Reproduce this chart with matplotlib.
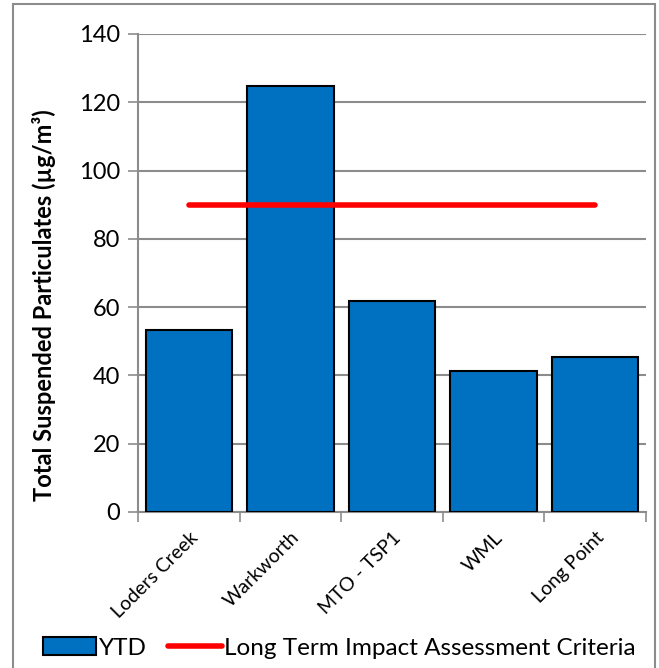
import matplotlib.pyplot as plt
from matplotlib.patches import Patch, Rectangle
from matplotlib.lines import Line2D

sites = ['Loders Creek', 'Warkworth', 'MTO - TSP1', 'WML', 'Long Point']
ytd = [53.4, 124.7, 61.9, 41.4, 45.3]
criteria = [90, 90, 90, 90, 90]

plt.rcParams['font.family'] = ['Lato', 'DejaVu Sans']

fig = plt.figure(figsize=(6.59, 6.68), dpi=100)
ax = fig.add_axes([138 / 659, 1 - 512 / 668, 508 / 659, 478 / 668])

x = range(len(sites))
ax.bar(x, ytd, width=0.85, color='#0070C0', edgecolor='black', linewidth=1.5, zorder=3)
ax.plot(x, criteria, color='#FF0000', linewidth=4, solid_capstyle='round', zorder=4)

ax.set_xlim(-0.5, len(sites) - 0.5)
ax.set_ylim(0, 140)
ax.set_yticks(range(0, 141, 20))
ax.yaxis.grid(True, color='#8c8c8c', linewidth=1.5, zorder=0)
ax.tick_params(axis='y', labelsize=17, length=7, width=1.2, color='#8c8c8c', pad=6)

ax.set_xticks([i - 0.5 for i in range(len(sites) + 1)])
ax.set_xticklabels([])
ax.set_xticks(list(x), minor=True)
ax.set_xticklabels(sites, minor=True, rotation=45, ha='right', rotation_mode='anchor', fontsize=14)
ax.tick_params(axis='x', which='major', length=7, width=1.2, color='#8c8c8c')
ax.tick_params(axis='x', which='minor', length=0, pad=12)

for s in ['top', 'right']:
    ax.spines[s].set_visible(False)
for s in ['left', 'bottom']:
    ax.spines[s].set_color('#8c8c8c')
    ax.spines[s].set_linewidth(1.5)

ax.set_ylabel('Total Suspended Particulates (µg/m³)', fontsize=17, fontweight='bold')
ax.yaxis.set_label_coords(-0.162, 0.433)

handles = [Patch(facecolor='#0070C0', edgecolor='black', linewidth=1.5),
           Line2D([0], [0], color='#FF0000', linewidth=4, solid_capstyle='round')]
fig.legend(handles, ['YTD', 'Long Term Impact Assessment Criteria'], loc='center',
           bbox_to_anchor=(0.515, 1 - 648 / 668), ncol=2, frameon=False, fontsize=17.5,
           handlelength=2.2, handletextpad=0.1, columnspacing=0.9)

fig.patches.append(Rectangle((13 / 659, -0.01), 642 / 659, (664 / 668) + 0.01,
                             transform=fig.transFigure, fill=False, edgecolor='#8c8c8c', linewidth=1.5))

fig.savefig('out.png', dpi=100)
